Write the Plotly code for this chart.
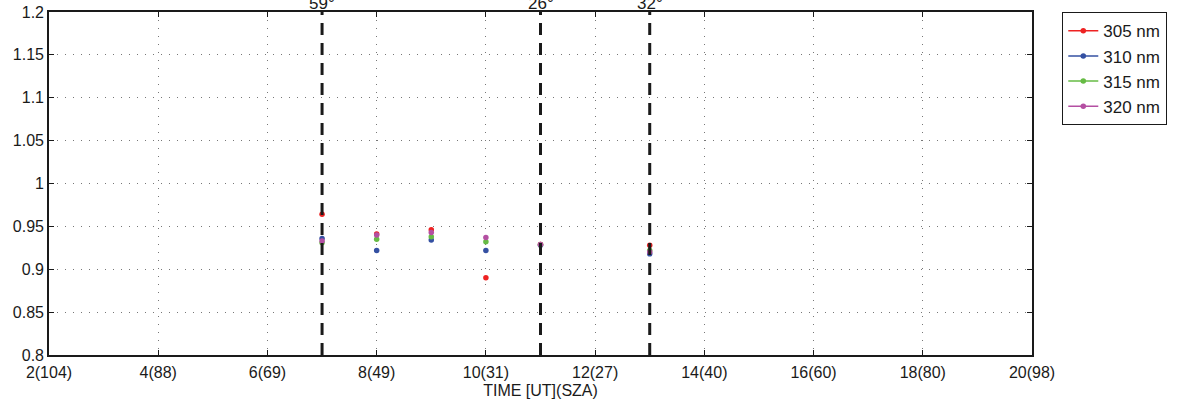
import plotly.graph_objects as go

# ---- data ----
times = [7, 8, 9, 10, 11, 13]
wavelength_labels = ["305 nm", "310 nm", "315 nm", "320 nm"]
ratio_305 = [0.964, 0.941, 0.946, 0.890, 0.929, 0.928]
ratio_310 = [0.936, 0.922, 0.934, 0.922, 0.928, 0.918]
ratio_315 = [0.931, 0.935, 0.938, 0.932, 0.929, 0.922]
ratio_320 = [0.933, 0.940, 0.943, 0.937, 0.929, 0.920]
series_colors = ["#ee2222", "#3450a2", "#66bb44", "#b44fa2"]

marker_times = [7, 11, 13]
marker_labels = ["59°", "26°", "32°"]

x_tickvals = [2, 4, 6, 8, 10, 12, 14, 16, 18, 20]
x_ticktext = ["2(104)", "4(88)", "6(69)", "8(49)", "10(31)", "12(27)",
              "14(40)", "16(60)", "18(80)", "20(98)"]
y_tickvals = [0.8, 0.85, 0.9, 0.95, 1.0, 1.05, 1.1, 1.15, 1.2]
y_ticktext = ["0.8", "0.85", "0.9", "0.95", "1", "1.05", "1.1", "1.15", "1.2"]

FONT = "Liberation Sans, Arial, sans-serif"
INK = "#1a1a1a"


def separated(xs, ys):
    """Insert gaps so that points are not joined by lines."""
    ox, oy = [], []
    for a, b in zip(xs, ys):
        ox += [a, None]
        oy += [b, None]
    return ox, oy


fig = go.Figure()
for name, vals, col in zip(wavelength_labels,
                           [ratio_305, ratio_310, ratio_315, ratio_320],
                           series_colors):
    sx, sy = separated(times, vals)
    fig.add_trace(go.Scatter(
        x=sx, y=sy, name=name, mode="lines+markers",
        line=dict(color=col, width=1.5),
        marker=dict(color=col, size=5.5),
        connectgaps=False,
    ))

for t in marker_times:
    fig.add_trace(go.Scatter(
        x=[t, t], y=[y_tickvals[0], y_tickvals[-1]], mode="lines",
        line=dict(color=INK, width=3, dash="12px,8px"),
        showlegend=False, hoverinfo="skip",
    ))

for t, lab in zip(marker_times, marker_labels):
    fig.add_annotation(
        x=t, xref="x", y=1, yref="paper", text=lab, showarrow=False,
        yanchor="bottom", yshift=-3,
        font=dict(family=FONT, size=17, color=INK),
    )

axis_common = dict(
    showline=True, linecolor=INK, linewidth=1.6, mirror="ticks",
    ticks="inside", ticklen=5, tickwidth=1.2, tickcolor=INK,
    showgrid=True, gridcolor="#777777", gridwidth=1, griddash="1px,7px",
    zeroline=False, automargin=False,
    tickfont=dict(family=FONT, size=16, color=INK),
)

fig.update_xaxes(
    range=[2, 20], tickvals=x_tickvals, ticktext=x_ticktext,
    ticklabelstandoff=2,
    title=dict(text="TIME [UT](SZA)", standoff=5,
               font=dict(family=FONT, size=16, color=INK)),
    **axis_common,
)
fig.update_yaxes(
    range=[0.8, 1.2], tickvals=y_tickvals, ticktext=y_ticktext,
    **axis_common,
)

fig.update_layout(
    width=1192, height=406,
    margin=dict(l=49, r=160, t=12, b=51),
    plot_bgcolor="white", paper_bgcolor="white",
    legend=dict(
        x=1.0305, y=1, xanchor="left", yanchor="top",
        bordercolor=INK, borderwidth=1.3, bgcolor="white",
        font=dict(family=FONT, size=17, color=INK),
        tracegroupgap=0,
    ),
    showlegend=True,
)

fig.write_html(
    "out.html",
    config={"displayModeBar": False},
    post_script="document.body.style.margin='0';document.body.style.overflow='hidden';",
)
